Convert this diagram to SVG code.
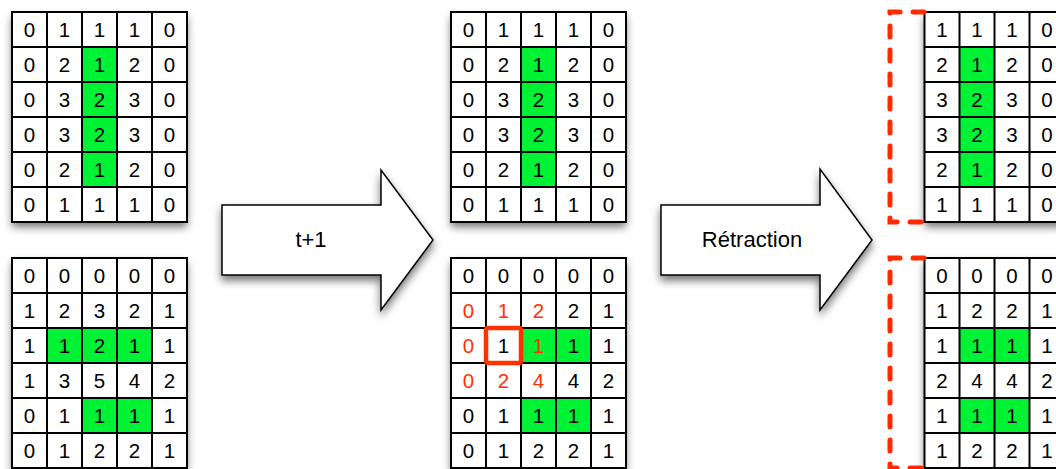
<svg xmlns="http://www.w3.org/2000/svg" width="1056" height="469" viewBox="0 0 1056 469">
<style>
.bg{fill:#fff;filter:url(#sh)}
.g{fill:#00F234}
.ln{fill:none;stroke:#000;stroke-width:2}
.t{font-family:"Liberation Sans",Arial,sans-serif;font-size:20.5px;text-anchor:middle;fill:#000}
.r{fill:#FF3300}
.arr{fill:#fff;stroke:#000;stroke-width:1.5;stroke-linejoin:miter;filter:url(#sh)}
.lab{font-family:"Liberation Sans",Arial,sans-serif;font-size:22px;text-anchor:middle;fill:#000}
.br{fill:none;stroke:#FF2A00;stroke-width:5;stroke-linecap:round;stroke-dasharray:11 13}
</style>
<defs>
<filter id="sh" x="-20%" y="-20%" width="140%" height="140%">
<feDropShadow dx="0" dy="5" stdDeviation="4" flood-color="#000" flood-opacity="0.55"/>
</filter>
<path id="grid5" d="M12 12H187V222H12Z M47 12V222 M82 12V222 M117 12V222 M152 12V222 M12 47H187 M12 82H187 M12 117H187 M12 152H187 M12 187H187"/>
<path id="grid4" d="M0 0H140V210H0Z M35 0V210 M70 0V210 M105 0V210 M0 35H140 M0 70H140 M0 105H140 M0 140H140 M0 175H140"/>
</defs>
<rect width="1056" height="469" fill="#fff"/>

<g id="grid-top-left">
<rect class="bg" x="12" y="12" width="175" height="210"/>
<rect class="g" x="82" y="47" width="35" height="140"/>
<use href="#grid5" class="ln"/>
<g class="t">
<text x="29.5" y="37">0</text><text x="64.5" y="37">1</text><text x="99.5" y="37">1</text><text x="134.5" y="37">1</text><text x="169.5" y="37">0</text>
<text x="29.5" y="72">0</text><text x="64.5" y="72">2</text><text x="99.5" y="72">1</text><text x="134.5" y="72">2</text><text x="169.5" y="72">0</text>
<text x="29.5" y="107">0</text><text x="64.5" y="107">3</text><text x="99.5" y="107">2</text><text x="134.5" y="107">3</text><text x="169.5" y="107">0</text>
<text x="29.5" y="142">0</text><text x="64.5" y="142">3</text><text x="99.5" y="142">2</text><text x="134.5" y="142">3</text><text x="169.5" y="142">0</text>
<text x="29.5" y="177">0</text><text x="64.5" y="177">2</text><text x="99.5" y="177">1</text><text x="134.5" y="177">2</text><text x="169.5" y="177">0</text>
<text x="29.5" y="212">0</text><text x="64.5" y="212">1</text><text x="99.5" y="212">1</text><text x="134.5" y="212">1</text><text x="169.5" y="212">0</text>
</g>
</g>

<g id="grid-bottom-left" transform="translate(0,246)">
<rect class="bg" x="12" y="12" width="175" height="210"/>
<rect class="g" x="47" y="82" width="105" height="35"/>
<rect class="g" x="82" y="152" width="70" height="35"/>
<use href="#grid5" class="ln"/>
<g class="t">
<text x="29.5" y="37">0</text><text x="64.5" y="37">0</text><text x="99.5" y="37">0</text><text x="134.5" y="37">0</text><text x="169.5" y="37">0</text>
<text x="29.5" y="72">1</text><text x="64.5" y="72">2</text><text x="99.5" y="72">3</text><text x="134.5" y="72">2</text><text x="169.5" y="72">1</text>
<text x="29.5" y="107">1</text><text x="64.5" y="107">1</text><text x="99.5" y="107">2</text><text x="134.5" y="107">1</text><text x="169.5" y="107">1</text>
<text x="29.5" y="142">1</text><text x="64.5" y="142">3</text><text x="99.5" y="142">5</text><text x="134.5" y="142">4</text><text x="169.5" y="142">2</text>
<text x="29.5" y="177">0</text><text x="64.5" y="177">1</text><text x="99.5" y="177">1</text><text x="134.5" y="177">1</text><text x="169.5" y="177">1</text>
<text x="29.5" y="212">0</text><text x="64.5" y="212">1</text><text x="99.5" y="212">2</text><text x="134.5" y="212">2</text><text x="169.5" y="212">1</text>
</g>
</g>

<g id="grid-top-middle" transform="translate(439,0)">
<rect class="bg" x="12" y="12" width="175" height="210"/>
<rect class="g" x="82" y="47" width="35" height="140"/>
<use href="#grid5" class="ln"/>
<g class="t">
<text x="29.5" y="37">0</text><text x="64.5" y="37">1</text><text x="99.5" y="37">1</text><text x="134.5" y="37">1</text><text x="169.5" y="37">0</text>
<text x="29.5" y="72">0</text><text x="64.5" y="72">2</text><text x="99.5" y="72">1</text><text x="134.5" y="72">2</text><text x="169.5" y="72">0</text>
<text x="29.5" y="107">0</text><text x="64.5" y="107">3</text><text x="99.5" y="107">2</text><text x="134.5" y="107">3</text><text x="169.5" y="107">0</text>
<text x="29.5" y="142">0</text><text x="64.5" y="142">3</text><text x="99.5" y="142">2</text><text x="134.5" y="142">3</text><text x="169.5" y="142">0</text>
<text x="29.5" y="177">0</text><text x="64.5" y="177">2</text><text x="99.5" y="177">1</text><text x="134.5" y="177">2</text><text x="169.5" y="177">0</text>
<text x="29.5" y="212">0</text><text x="64.5" y="212">1</text><text x="99.5" y="212">1</text><text x="134.5" y="212">1</text><text x="169.5" y="212">0</text>
</g>
</g>

<g id="grid-bottom-middle" transform="translate(439,246)">
<rect class="bg" x="12" y="12" width="175" height="210"/>
<rect class="g" x="82" y="82" width="70" height="35"/>
<rect class="g" x="82" y="152" width="70" height="35"/>
<use href="#grid5" class="ln"/>
<g class="t">
<text x="29.5" y="37">0</text><text x="64.5" y="37">0</text><text x="99.5" y="37">0</text><text x="134.5" y="37">0</text><text x="169.5" y="37">0</text>
<text x="29.5" y="72" class="r">0</text><text x="64.5" y="72" class="r">1</text><text x="99.5" y="72" class="r">2</text><text x="134.5" y="72">2</text><text x="169.5" y="72">1</text>
<text x="29.5" y="107" class="r">0</text><text x="64.5" y="107">1</text><text x="99.5" y="107" class="r">1</text><text x="134.5" y="107">1</text><text x="169.5" y="107">1</text>
<text x="29.5" y="142" class="r">0</text><text x="64.5" y="142" class="r">2</text><text x="99.5" y="142" class="r">4</text><text x="134.5" y="142">4</text><text x="169.5" y="142">2</text>
<text x="29.5" y="177">0</text><text x="64.5" y="177">1</text><text x="99.5" y="177">1</text><text x="134.5" y="177">1</text><text x="169.5" y="177">1</text>
<text x="29.5" y="212">0</text><text x="64.5" y="212">1</text><text x="99.5" y="212">2</text><text x="134.5" y="212">2</text><text x="169.5" y="212">1</text>
</g>
<rect x="47" y="82" width="35" height="35" rx="2" fill="none" stroke="#FF3300" stroke-width="4.5"/>
</g>

<g id="grid-top-right" transform="translate(924.5,12)">
<rect class="bg" x="0" y="0" width="140" height="210"/>
<rect class="g" x="35" y="35" width="35" height="140"/>
<use href="#grid4" class="ln"/>
<g class="t">
<text x="17.5" y="25">1</text><text x="52.5" y="25">1</text><text x="87.5" y="25">1</text><text x="122.5" y="25">0</text>
<text x="17.5" y="60">2</text><text x="52.5" y="60">1</text><text x="87.5" y="60">2</text><text x="122.5" y="60">0</text>
<text x="17.5" y="95">3</text><text x="52.5" y="95">2</text><text x="87.5" y="95">3</text><text x="122.5" y="95">0</text>
<text x="17.5" y="130">3</text><text x="52.5" y="130">2</text><text x="87.5" y="130">3</text><text x="122.5" y="130">0</text>
<text x="17.5" y="165">2</text><text x="52.5" y="165">1</text><text x="87.5" y="165">2</text><text x="122.5" y="165">0</text>
<text x="17.5" y="200">1</text><text x="52.5" y="200">1</text><text x="87.5" y="200">1</text><text x="122.5" y="200">0</text>
</g>
</g>

<g id="grid-bottom-right" transform="translate(924.5,258)">
<rect class="bg" x="0" y="0" width="140" height="210"/>
<rect class="g" x="35" y="70" width="70" height="35"/>
<rect class="g" x="35" y="140" width="70" height="35"/>
<use href="#grid4" class="ln"/>
<g class="t">
<text x="17.5" y="25">0</text><text x="52.5" y="25">0</text><text x="87.5" y="25">0</text><text x="122.5" y="25">0</text>
<text x="17.5" y="60">1</text><text x="52.5" y="60">2</text><text x="87.5" y="60">2</text><text x="122.5" y="60">1</text>
<text x="17.5" y="95">1</text><text x="52.5" y="95">1</text><text x="87.5" y="95">1</text><text x="122.5" y="95">1</text>
<text x="17.5" y="130">2</text><text x="52.5" y="130">4</text><text x="87.5" y="130">4</text><text x="122.5" y="130">2</text>
<text x="17.5" y="165">1</text><text x="52.5" y="165">1</text><text x="87.5" y="165">1</text><text x="122.5" y="165">1</text>
<text x="17.5" y="200">1</text><text x="52.5" y="200">2</text><text x="87.5" y="200">2</text><text x="122.5" y="200">1</text>
</g>
</g>

<g id="connectors">
<g id="arrow-t1">
<polygon class="arr" points="222,205 381,205 381,170 433,240 381,310 381,275 222,275"/>
<text class="lab" x="311" y="247">t+1</text>
</g>
<g id="arrow-retraction">
<polygon class="arr" points="661,205 820,205 820,169 872,240 820,310 820,275 661,275"/>
<text class="lab" x="752" y="247">Rétraction</text>
</g>
</g>

<g id="brackets">
<path class="br" d="M924 12H890V222H924"/>
<path class="br" d="M924 258H890V468H924"/>
</g>
</svg>
